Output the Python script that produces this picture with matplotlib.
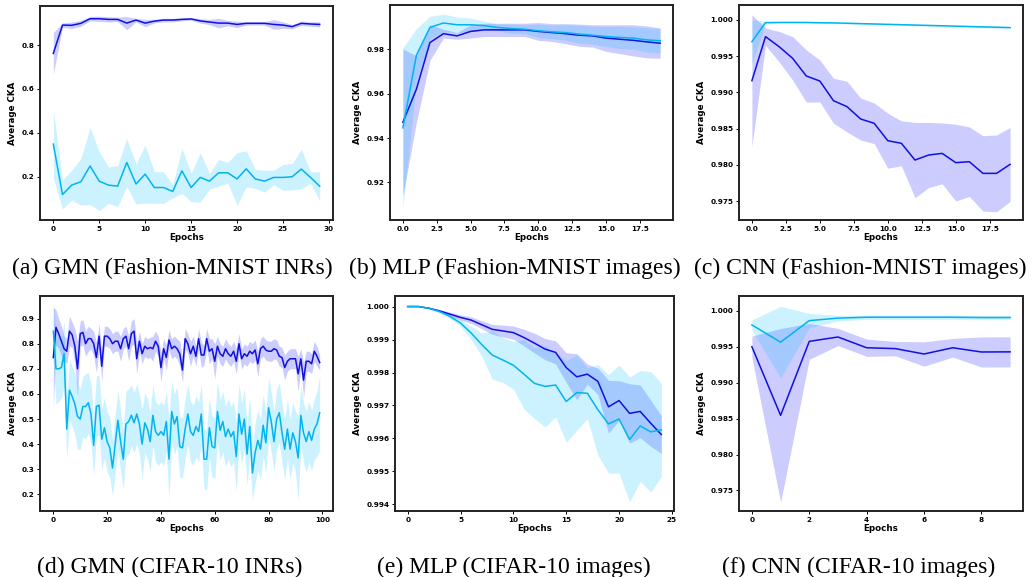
import numpy as np
import matplotlib
matplotlib.use('Agg')
import matplotlib.pyplot as plt

plt.rcParams['font.family'] = 'DejaVu Sans'
plt.rcParams['font.weight'] = 'bold'
plt.rcParams['axes.labelweight'] = 'bold'

#%% data (mean and half-width of the band)
# (a) GMN, Fashion-MNIST INRs
a_dark_mean = [0.762, 0.891, 0.89, 0.899, 0.92, 0.92, 0.917, 0.917, 0.90, 0.914,
               0.90, 0.909, 0.914, 0.914, 0.917, 0.919, 0.91, 0.905, 0.90, 0.90,
               0.894, 0.899, 0.899, 0.899, 0.894, 0.891, 0.884, 0.899, 0.896, 0.894]
a_dark_std = [0.095, 0.01, 0.015, 0.013, 0.01, 0.012, 0.012, 0.01, 0.03, 0.008,
              0.017, 0.008, 0.008, 0.008, 0.007, 0.006, 0.01, 0.012, 0.022, 0.012,
              0.015, 0.008, 0.008, 0.008, 0.022, 0.015, 0.01, 0.01, 0.01, 0.012]
a_light_mean = [0.349, 0.119, 0.162, 0.177, 0.249, 0.18, 0.162, 0.157, 0.265, 0.167,
                0.212, 0.151, 0.151, 0.133, 0.227, 0.151, 0.197, 0.18, 0.218, 0.218,
                0.19, 0.236, 0.19, 0.18, 0.197, 0.197, 0.2, 0.235, 0.197, 0.157]
a_light_std = [0.155, 0.066, 0.068, 0.106, 0.176, 0.134, 0.083, 0.093, 0.11, 0.091,
               0.132, 0.072, 0.072, 0.029, 0.103, 0.064, 0.113, 0.035, 0.061, 0.047,
               0.12, 0.082, 0.043, 0.05, 0.033, 0.059, 0.06, 0.091, 0.026, 0.066]

# (b) MLP, Fashion-MNIST images
b_dark_mean = [0.9471, 0.962, 0.983, 0.987, 0.986, 0.988, 0.9887, 0.9887, 0.9887, 0.9887,
               0.988, 0.9875, 0.987, 0.9863, 0.986, 0.985, 0.9845, 0.984, 0.9833, 0.9827]
b_dark_std = [0.033, 0.015, 0.008, 0.002, 0.0015, 0.003, 0.003, 0.003, 0.003, 0.003,
              0.004, 0.004, 0.0045, 0.005, 0.005, 0.006, 0.0065, 0.007, 0.0072, 0.0068]
b_light_mean = [0.9446, 0.9773, 0.9898, 0.9918, 0.991, 0.991, 0.9906, 0.9898, 0.9893, 0.989,
                0.9883, 0.9878, 0.9875, 0.9868, 0.9863, 0.9857, 0.9853, 0.985, 0.9842, 0.9838]
b_light_std = [0.036, 0.012, 0.005, 0.004, 0.0035, 0.003, 0.002, 0.0015, 0.002, 0.002,
               0.003, 0.003, 0.0035, 0.004, 0.004, 0.0045, 0.005, 0.005, 0.0055, 0.0055]

# (c) CNN, Fashion-MNIST images
c_dark_mean = [0.99162, 0.9977, 0.99632, 0.9947, 0.99227, 0.99157, 0.98886, 0.98803, 0.98633, 0.98573,
               0.98333, 0.98297, 0.98066, 0.98135, 0.98158, 0.9803, 0.98043, 0.97882, 0.97882, 0.98006]
c_dark_std = [0.0091, 0.0012, 0.0021, 0.003, 0.0036, 0.0029, 0.0031, 0.0035, 0.0029, 0.0028,
              0.0038, 0.0031, 0.0052, 0.0045, 0.0042, 0.0053, 0.0048, 0.0052, 0.0053, 0.0051]
c_light_mean = [0.9970, 0.99963, 0.99966, 0.99966, 0.99966, 0.99962, 0.9996, 0.99955, 0.9995, 0.99945,
                0.9994, 0.99935, 0.9993, 0.99925, 0.9992, 0.99915, 0.9991, 0.99905, 0.999, 0.99895]
c_light_std = [0.003, 0.0002, 0.0001, 0.0001, 0.0001, 0.0001, 0.0001, 0.0001, 0.0001, 0.0001,
               0.0001, 0.0001, 0.0001, 0.0001, 0.0001, 0.0001, 0.00012, 0.00013, 0.00015, 0.00015]

# (d) GMN, CIFAR-10 INRs
d_dark_mean = [0.745, 0.865, 0.84, 0.81, 0.78, 0.77, 0.85, 0.835, 0.79, 0.70,
               0.84, 0.845, 0.80, 0.82, 0.82, 0.80, 0.745, 0.83, 0.71, 0.83,
               0.83, 0.82, 0.80, 0.81, 0.81, 0.78, 0.82, 0.83, 0.78, 0.84,
               0.85, 0.74, 0.81, 0.76, 0.79, 0.78, 0.785, 0.78, 0.81, 0.79,
               0.705, 0.78, 0.745, 0.815, 0.78, 0.79, 0.78, 0.76, 0.695, 0.82,
               0.80, 0.76, 0.79, 0.75, 0.82, 0.755, 0.755, 0.82, 0.77, 0.78,
               0.73, 0.79, 0.76, 0.75, 0.78, 0.76, 0.75, 0.77, 0.73, 0.80,
               0.74, 0.76, 0.75, 0.77, 0.76, 0.775, 0.72, 0.78, 0.79, 0.775,
               0.77, 0.77, 0.78, 0.775, 0.75, 0.745, 0.705, 0.73, 0.74, 0.74,
               0.74, 0.68, 0.74, 0.655, 0.73, 0.73, 0.72, 0.77, 0.75, 0.725]
d_dark_std = [0.20, 0.07, 0.06, 0.06, 0.05, 0.05, 0.06, 0.05, 0.07, 0.11,
              0.05, 0.05, 0.05, 0.05, 0.04, 0.05, 0.06, 0.05, 0.06, 0.04,
              0.04, 0.04, 0.04, 0.04, 0.04, 0.05, 0.04, 0.04, 0.05, 0.05,
              0.05, 0.06, 0.04, 0.04, 0.04, 0.04, 0.04, 0.05, 0.04, 0.04,
              0.06, 0.04, 0.05, 0.04, 0.04, 0.04, 0.04, 0.05, 0.05, 0.04,
              0.04, 0.05, 0.04, 0.04, 0.04, 0.05, 0.04, 0.04, 0.05, 0.04,
              0.07, 0.04, 0.04, 0.04, 0.04, 0.04, 0.04, 0.04, 0.05, 0.04,
              0.04, 0.04, 0.04, 0.04, 0.04, 0.04, 0.05, 0.04, 0.04, 0.04,
              0.04, 0.04, 0.04, 0.04, 0.04, 0.04, 0.05, 0.04, 0.04, 0.04,
              0.04, 0.07, 0.04, 0.07, 0.04, 0.04, 0.04, 0.04, 0.04, 0.03]
d_light_mean = [0.85, 0.70, 0.70, 0.705, 0.76, 0.46, 0.615, 0.59, 0.56, 0.51,
                0.50, 0.55, 0.55, 0.565, 0.52, 0.395, 0.55, 0.555, 0.42, 0.465,
                0.41, 0.385, 0.305, 0.40, 0.495, 0.41, 0.34, 0.48, 0.49, 0.515,
                0.485, 0.52, 0.48, 0.40, 0.485, 0.46, 0.41, 0.515, 0.45, 0.435,
                0.45, 0.435, 0.49, 0.34, 0.53, 0.48, 0.51, 0.39, 0.385, 0.46,
                0.52, 0.45, 0.435, 0.47, 0.45, 0.52, 0.34, 0.34, 0.465, 0.39,
                0.385, 0.53, 0.455, 0.49, 0.43, 0.46, 0.43, 0.45, 0.35, 0.52,
                0.44, 0.50, 0.36, 0.47, 0.285, 0.365, 0.415, 0.38, 0.475, 0.405,
                0.545, 0.49, 0.41, 0.50, 0.525, 0.445, 0.38, 0.46, 0.38, 0.445,
                0.41, 0.345, 0.515, 0.445, 0.41, 0.45, 0.415, 0.46, 0.48, 0.525]
d_light_std = [0.12, 0.14, 0.13, 0.12, 0.13, 0.12, 0.12, 0.12, 0.12, 0.13,
               0.12, 0.12, 0.13, 0.12, 0.12, 0.12, 0.12, 0.12, 0.12, 0.12,
               0.12, 0.12, 0.11, 0.12, 0.12, 0.12, 0.12, 0.13, 0.13, 0.12,
               0.12, 0.12, 0.12, 0.14, 0.12, 0.12, 0.12, 0.12, 0.12, 0.12,
               0.12, 0.12, 0.12, 0.16, 0.12, 0.12, 0.12, 0.12, 0.12, 0.12,
               0.12, 0.12, 0.12, 0.12, 0.12, 0.12, 0.12, 0.12, 0.12, 0.12,
               0.12, 0.12, 0.12, 0.12, 0.12, 0.12, 0.12, 0.12, 0.14, 0.12,
               0.12, 0.12, 0.12, 0.12, 0.11, 0.12, 0.12, 0.12, 0.12, 0.12,
               0.12, 0.12, 0.12, 0.12, 0.12, 0.12, 0.12, 0.12, 0.12, 0.12,
               0.12, 0.17, 0.12, 0.12, 0.12, 0.12, 0.12, 0.12, 0.13, 0.15]

# (e) MLP, CIFAR-10 images
e_dark_mean = [1.0, 1.0, 0.99995, 0.99987, 0.99977, 0.99967, 0.99959, 0.99945, 0.99931, 0.99926,
               0.99921, 0.99906, 0.99889, 0.99871, 0.99861, 0.99815, 0.99787, 0.99795, 0.99773, 0.99696,
               0.99715, 0.99676, 0.99682, 0.99646, 0.99612]
e_dark_std = [0.0, 0.0, 0.00002, 0.00004, 0.00006, 0.00008, 0.0001, 0.00012, 0.00015, 0.00018,
              0.0002, 0.00025, 0.0003, 0.00032, 0.00035, 0.00045, 0.0007, 0.0003, 0.0004, 0.0008,
              0.0006, 0.0009, 0.0008, 0.0007, 0.00057]
e_light_mean = [1.0, 1.0, 0.99995, 0.99985, 0.9997, 0.9995, 0.9992, 0.99885, 0.99853, 0.99838,
                0.99822, 0.99795, 0.99767, 0.99758, 0.99762, 0.99712, 0.99739, 0.99737, 0.99687, 0.99644,
                0.99659, 0.99597, 0.99638, 0.9962, 0.99626]
e_light_std = [0.0, 0.0, 0.00002, 0.00004, 0.00006, 0.0001, 0.0002, 0.00035, 0.00073, 0.00068,
               0.00072, 0.00105, 0.00107, 0.00123, 0.00097, 0.00124, 0.00114, 0.00077, 0.00137, 0.00149,
               0.00164, 0.00189, 0.00168, 0.00183, 0.00141]

# (f) CNN, CIFAR-10 images
f_dark_mean = [0.995, 0.98545, 0.99576, 0.99637, 0.99487, 0.99475, 0.9940, 0.99487, 0.99428, 0.9943]
f_dark_std = [0.0015, 0.0121, 0.0025, 0.0012, 0.0012, 0.001, 0.0017, 0.0013, 0.0021, 0.0021]
f_light_mean = [0.99805, 0.99565, 0.99865, 0.999, 0.99912, 0.99912, 0.99912, 0.99912, 0.99908, 0.99908]
f_light_std = [0.0007, 0.005, 0.001, 0.0004, 0.0003, 0.0003, 0.0003, 0.0003, 0.0003, 0.0003]

captions = ['(a) GMN (Fashion-MNIST INRs)', '(b) MLP (Fashion-MNIST images)',
            '(c) CNN (Fashion-MNIST images)', '(d) GMN (CIFAR-10 INRs)',
            '(e) MLP (CIFAR-10 images)', '(f) CNN (CIFAR-10 images)']

#%% layout (pixel boxes: left, top, right, bottom)
W, H = 1033, 577
boxes = [(40, 6, 333, 220), (390, 5, 673, 220), (739, 5, 1023, 220),
         (40, 296, 333, 511), (395, 296, 674, 511), (739, 296, 1023, 511)]
cap_pos = [(172, 268), (515, 268), (860, 268), (170, 567), (514, 567), (859, 567)]
ylims = [(0.003, 0.978), (0.9031, 0.9999), (0.97238, 1.00207),
         (0.1336, 0.990), (0.9938, 1.00032), (0.97213, 1.00208)]
yticks = [np.arange(0.2, 0.81, 0.2), np.arange(0.92, 0.981, 0.02), np.arange(0.975, 1.0001, 0.005),
          np.arange(0.2, 0.91, 0.1), np.arange(0.994, 1.00001, 0.001), np.arange(0.975, 1.0001, 0.005)]
yfmt = ['%.1f', '%.2f', '%.3f', '%.1f', '%.3f', '%.3f']

panels = [(a_dark_mean, a_dark_std, a_light_mean, a_light_std),
          (b_dark_mean, b_dark_std, b_light_mean, b_light_std),
          (c_dark_mean, c_dark_std, c_light_mean, c_light_std),
          (d_dark_mean, d_dark_std, d_light_mean, d_light_std),
          (e_dark_mean, e_dark_std, e_light_mean, e_light_std),
          (f_dark_mean, f_dark_std, f_light_mean, f_light_std)]

dark = '#1010e0'
light = '#00b4f0'

fig = plt.figure(figsize=(W / 100, H / 100), dpi=100)
for i in range(6):
    l, t, r, b = boxes[i]
    ax = fig.add_axes([l / W, 1 - b / H, (r - l) / W, (b - t) / H])
    dm, ds, lm, ls = [np.array(v) for v in panels[i]]
    x = np.arange(len(dm))
    ax.fill_between(x, dm - ds, dm + ds, color='blue', alpha=0.2, lw=0)
    ax.plot(x, dm, color=dark, lw=1.1)
    ax.fill_between(x, lm - ls, lm + ls, color='deepskyblue', alpha=0.2, lw=0)
    ax.plot(x, lm, color=light, lw=1.1)
    ax.set_ylim(*ylims[i])
    ax.set_yticks(yticks[i])
    ax.set_yticklabels([yfmt[i] % v for v in yticks[i]])
    ax.set_xlabel('Epochs', fontsize=6.3, labelpad=1)
    ax.set_ylabel('Average CKA', fontsize=6.3, labelpad=3)
    ax.tick_params(labelsize=5.2, length=2.5, width=0.7, pad=1.5)
    for s in ax.spines.values():
        s.set_linewidth(1.4)
        s.set_color('#222222')
    cx, cy = cap_pos[i]
    fig.text(cx / W, 1 - cy / H, captions[i], ha='center', va='center',
             fontsize=17, family='Liberation Serif', fontweight='normal')

plt.savefig('out.png', dpi=100)
